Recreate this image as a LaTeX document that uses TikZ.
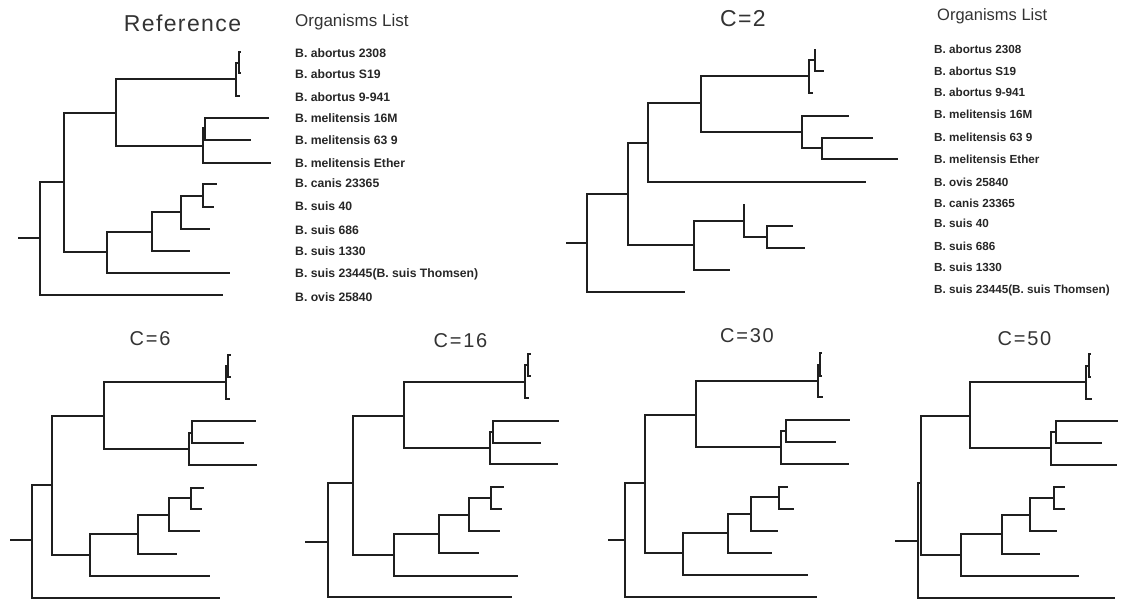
\documentclass[tikz,border=0pt]{standalone}
\usepackage{fontspec}
\setmainfont{Liberation Sans}
\usepackage{tikz}

\tikzset{
  branch/.style={line width=1.2pt, draw=black!88},
  taxon/.style={anchor=west, inner sep=0pt, text height=8.7pt, text depth=0pt, text=black!85,
    font=\fontsize{12.2}{14}\selectfont\bfseries},
  listhead/.style={anchor=west, inner sep=0pt, text height=12pt, text depth=0pt, text=black!80,
    font=\fontsize{17}{20}\selectfont},
  bigtitle/.style={inner sep=0pt, text height=16pt, text depth=0pt, text=black!80,
    font=\fontsize{23}{27}\selectfont\addfontfeature{LetterSpace=6}},
  smalltitle/.style={inner sep=0pt, text height=14pt, text depth=0pt, text=black!80,
    font=\fontsize{20}{24}\selectfont\addfontfeature{LetterSpace=9}}
}

\begin{document}
\begin{tikzpicture}[x=1pt, y=-1pt]
        \useasboundingbox (0,0) rectangle (1121,599);
        % branch lists (parent/child)
        \def\toplinks{r/n1, r/l12, n1/n2, n1/n6, n2/n3, n2/n4, n3/n3b, n3/l3, n3b/l1, n3b/l2,
          n4/n4b, n4/l6, n4b/l4, n4b/l5, n6/n7, n6/l11, n7/n8, n7/l10, n8/n9, n8/l9, n9/l7, n9/l8}
        \def\ctwolinks{r/n1, r/l12, n1/n2, n1/n6, n2/n3, n2/l7, n3/n4, n3/n5, n4/n4b, n4/l3,
          n4b/l1, n4b/l2, n5/l4, n5/n5b, n5b/l5, n5b/l6, n6/n7, n6/l11, n7/l8, n7/n8, n8/l9, n8/l10}
        % reference tree
        \foreach \n/\x/\y in {s/18/238, r/40/238, l12/223/295, n1/64/182, n2/116/113, n6/107/252,
          n3/236/79, n4/203/146, n3b/239/63, l3/240/96, l1/241/52, l2/241/73, n4b/205/128,
          l4/269/118, l5/251/140, l6/271/163, n7/152/232, l11/230/273, n8/181/212, l10/190/251,
          n9/203/196, l9/210/229, l7/217/184, l8/214/207}
          \coordinate (a-\n) at (\x,\y);
        % C=2 tree
        \foreach \n/\x/\y in {s/566/243, r/587/243, l12/685/292, n1/628/194, n2/648/143, n6/694/245,
          n3/701/103, l7/866/182, n4/809/76, n5/802/132, n4b/815/60, l3/813/93, l1/815/49,
          l2/824/71, l4/849/116, n5b/822/148, l5/873/138, l6/898/159, n7/744/221, l11/730/270,
          l8/744/204, n8/767/237, l9/793/226, l10/805/248}
          \coordinate (b-\n) at (\x,\y);
        % C=6 tree
        \foreach \n/\x/\y in {s/10/540, r/32/540, l12/220/598, n1/52/485, n2/104/416, n6/90/555,
          n3/226/382, n4/189/449, n3b/228/366, l3/230/399, l1/231/355, l2/231/377, n4b/192/433,
          l6/257/465, l4/256/421, l5/244/443, n7/138/534, l11/210/576, n8/169/515, l10/177/554,
          n9/191/498, l9/200/531, l7/204/488, l8/202/509}
          \coordinate (c-\n) at (\x,\y);
        % C=16 tree
        \foreach \n/\x/\y in {s/305/542, r/328/542, l12/512/597, n1/353/483, n2/404/416, n6/394/555,
          n3/525/382, n4/490/448, n3b/528/365, l3/529/398, l1/531/354, l2/531/376, n4b/493/432,
          l6/558/464, l4/559/421, l5/541/443, n7/439/534, l11/518/576, n8/469/515, l10/479/553,
          n9/491/498, l9/500/531, l7/504/487, l8/502/509}
          \coordinate (d-\n) at (\x,\y);
        % C=30 tree
        \foreach \n/\x/\y in {s/608/540, r/625/540, l12/817/597, n1/645/483, n2/696/415, n6/683/553,
          n3/818/381, n4/781/447, n3b/820/365, l3/823/397, l1/822/353, l2/822/376, n4b/786/431,
          l6/849/464, l4/850/420, l5/836/442, n7/728/533, l11/808/575, n8/751/514, l10/772/553,
          n9/779/497, l9/778/531, l7/788/487, l8/794/509}
          \coordinate (e-\n) at (\x,\y);
        % C=50 tree
        \foreach \n/\x/\y in {s/895/541, r/918/541, l12/1115/598, n1/921/483, n2/970/416, n6/961/555,
          n3/1086/382, n4/1051/448, n3b/1089/366, l3/1092/399, l1/1091/354, l2/1091/377, n4b/1056/432,
          l6/1117/465, l4/1118/421, l5/1102/443, n7/1002/534, l11/1079/576, n8/1030/515, l10/1040/554,
          n9/1054/498, l9/1057/531, l7/1065/487, l8/1065/509}
          \coordinate (f-\n) at (\x,\y);
        % branches
        \foreach \t in {a,b,c,d,e,f}
          \draw[branch] (\t-s) -- (\t-r);
        \foreach \t in {a,c,d,e,f} {
          \foreach \p/\c in \toplinks
            \draw[branch] (\t-\p) |- (\t-\c);
        }
        \foreach \p/\c in \ctwolinks
          \draw[branch] (b-\p) |- (b-\c);
        % titles
        \node[bigtitle] (ttlref) at (182.5,23.4) {Reference};
        \node[bigtitle] (ttlc2) at (743,18.8) {C=2};
        \node[smalltitle] (ttlc6) at (150,338) {C=6};
        \node[smalltitle] (ttlc16) at (460.5,340) {C=16};
        \node[smalltitle] (ttlc30) at (747,335) {C=30};
        \node[smalltitle] (ttlc50) at (1024.5,338) {C=50};
        % organism lists
        \node[listhead] (heada) at (295,21) {Organisms List};
        \node[listhead, font=\fontsize{16.5}{20}\selectfont] (headb) at (937,15) {Organisms List};
        \foreach \y/\txt [count=\i] in {53/B. abortus 2308, 74/B. abortus S19, 97/B. abortus 9-941,
          118/B. melitensis 16M, 140/B. melitensis 63 9, 163/B. melitensis Ether, 183/B. canis 23365,
          206/B. suis 40, 230/B. suis 686, 251/B. suis 1330, 273/B. suis 23445(B. suis Thomsen),
          297/B. ovis 25840}
          \node[taxon] (la\i) at (295,\y) {\txt};
        \foreach \y/\txt [count=\i] in {49/B. abortus 2308, 71/B. abortus S19, 92/B. abortus 9-941,
          114/B. melitensis 16M, 137/B. melitensis 63 9, 159/B. melitensis Ether, 182/B. ovis 25840,
          203/B. canis 23365, 223/B. suis 40, 246/B. suis 686, 267/B. suis 1330,
          289/B. suis 23445(B. suis Thomsen)}
          \node[taxon, font=\fontsize{11.7}{14}\selectfont\bfseries] (lb\i) at (934,\y) {\txt};
    \end{tikzpicture}
\end{document}
